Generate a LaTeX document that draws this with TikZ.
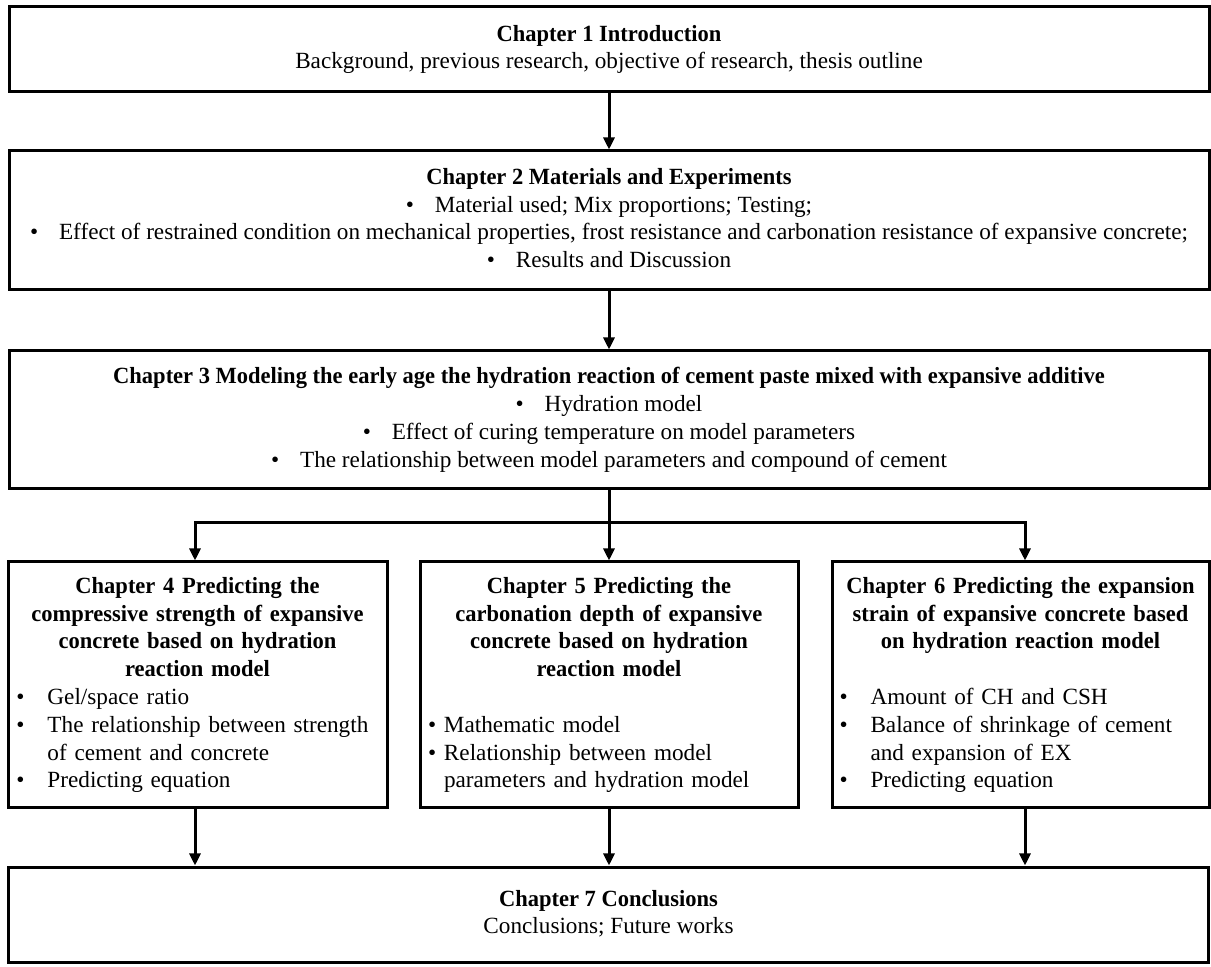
\documentclass[tikz,border=0pt]{standalone}
\usepackage{fontspec}
\setmainfont{Liberation Serif}[BoldFeatures={FakeStretch=0.97}]
\usetikzlibrary{arrows.meta}

\newcommand{\bitem}[2][15.5pt]{\par\hangindent=#1\hangafter=1\noindent\makebox[#1][l]{\textbullet}#2\par}
\newcommand{\cbullet}{\textbullet\hspace{0.9em}}

\begin{document}
\begin{tikzpicture}[x=0.5pt,y=-0.5pt]
	\tikzset{
		chapbox/.style={draw,line width=1.5pt,minimum width=#1,inner sep=0pt,font=\fontsize{11.6}{13.9}\selectfont},
		widebox/.style={chapbox=600pt,align=center},
		sidebox/.style={chapbox=#1,minimum height=123pt,text width=181pt},
		arr/.style={line width=1.5pt,-{Triangle[length=6pt,width=5.5pt]}}
	}
	\useasboundingbox (0,0) rectangle (1211,967);
	% top row of chapters
	\node[widebox,minimum height=42.5pt] (intro) at (609,49.5)
		{\strut\textbf{Chapter 1 Introduction}\\Background, previous research, objective of research, thesis outline\strut};
	\node[widebox,minimum height=69.5pt] (materials) at (609,220.5)
		{\strut\textbf{Chapter 2 Materials and Experiments}\\
		\cbullet Material used; Mix proportions; Testing;\\
		\cbullet Effect of restrained condition on mechanical properties, frost resistance and carbonation resistance of expansive concrete;\\
		\cbullet Results and Discussion\strut};
	\node[widebox,minimum height=69pt] (hydration) at (609,420)
		{\strut\textbf{Chapter 3 Modeling the early age the hydration reaction of cement paste mixed with expansive additive}\\
		\cbullet Hydration model\\
		\cbullet Effect of curing temperature on model parameters\\
		\cbullet The relationship between model parameters and compound of cement\strut};
	% three prediction chapters
	\node[sidebox=189.5pt] (strength) at (197.5,685)
		{{\centering\bfseries\strut Chapter 4 Predicting the\\compressive strength of expansive\\concrete based on hydration\\reaction model\par}
		\raggedright
		\bitem{Gel/space ratio}
		\bitem{The relationship between strength\hfil\break of cement and concrete}
		\bitem{Predicting equation\strut}};
	\node[sidebox=189pt] (carbonation) at (609,685)
		{{\centering\bfseries\strut Chapter 5 Predicting the\\carbonation depth of expansive\\concrete based on hydration\\reaction model\\[13.9pt]\par}
		\raggedright
		\bitem[8pt]{Mathematic model}
		\bitem[8pt]{Relationship between model\hfil\break parameters and hydration model\strut}};
	\node[sidebox=188.5pt] (expansion) at (1020.5,685)
		{{\centering\bfseries\strut Chapter 6 Predicting the expansion\\strain of expansive concrete based\\on hydration reaction model\\[13.9pt]\par}
		\raggedright
		\bitem{Amount of CH and CSH}
		\bitem{Balance of shrinkage of cement\hfil\break and expansion of EX}
		\bitem{Predicting equation\strut}};
	\node[widebox,minimum height=47.5pt] (conclusions) at (608.5,914.5)
		{\strut\textbf{Chapter 7 Conclusions}\\Conclusions; Future works\strut};
	% connectors
	\draw[arr] (intro) -- (materials);
	\draw[arr] (materials) -- (hydration);
	\coordinate (split) at (609,523);
	\draw[line width=1.5pt] (hydration.south) -- (split);
	\draw[arr] (split) -| ([xshift=-1.25pt]strength.north);
	\draw[arr] (split) -- (carbonation.north);
	\draw[arr] (split) -| ([xshift=2.25pt]expansion.north);
	\draw[arr] ([xshift=-1.25pt]strength.south) -- ([xshift=-1.25pt]strength.south |- conclusions.north);
	\draw[arr] (carbonation.south) -- (carbonation.south |- conclusions.north);
	\draw[arr] ([xshift=2.25pt]expansion.south) -- ([xshift=2.25pt]expansion.south |- conclusions.north);
\end{tikzpicture}
\end{document}
